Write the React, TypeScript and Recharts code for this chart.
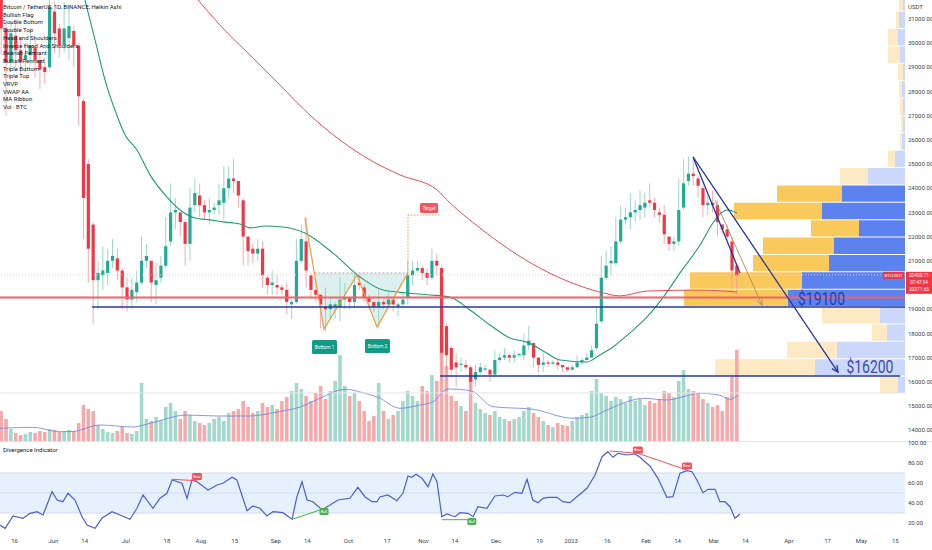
import React from 'react'
import {
  ComposedChart, BarChart, Bar, Line, Area, Cell, XAxis, YAxis,
  ReferenceLine, ReferenceArea, ReferenceDot,
} from 'recharts'

const W = 932
const PRICE_H = 441
const RSI_TOP = 436
const RSI_H = 114
const AXIS_W = 27
const FONT = 'Roboto, "Noto Sans", sans-serif'
const DAY_DOMAIN: [number, number] = [0, 374] // days since 2022-05-10
const PRICE_DOMAIN: [number, number] = [13.554, 31.777] // k USDT
const VOL_DOMAIN: [number, number] = [0, 441]
const PROFILE_DOMAIN: [number, number] = [0, 905]
const RSI_DOMAIN: [number, number] = [7, 102]
const BODY_W = 3.2
const VOL_W = 3.6

const UP = '#22ab94'
const DOWN = '#f23645'
const UP_WICK = '#7fcfbd'
const DOWN_WICK = '#f5949c'
const NAVY = '#2636a0'

// time axis
const timeTicks = [6, 22, 35, 52, 69, 83, 97, 114, 127, 144, 160, 175, 188, 205, 223, 236, 251, 267, 280, 295, 308, 326, 342, 356, 370]
const timeLabels = ['16', 'Jun', '14', 'Jul', '18', 'Aug', '15', 'Sep', '14', 'Oct', '17', 'Nov', '14', 'Dec', '19', '2023', '16', 'Feb', '14', 'Mar', '14', 'Apr', '17', 'May', '15']
const priceTicks = [14, 15, 16, 17, 18, 19, 21, 22, 23, 24, 25, 26, 27, 28, 29, 30, 31]
const rsiTicks = [20, 40, 60, 80, 100]

// Heikin Ashi candles, 2-day buckets from 2022-05-10: [open, high, low, close] in k USDT
const candles: number[][] = [
  [31.8, 32.2, 29.5, 30.6], [30.6, 30.8, 27.0, 29.2], [29.2, 30.9, 28.9, 30.4], [30.3, 31.0, 29.0, 29.7], [29.7, 30.2, 28.7, 29.2],
  [29.3, 30.0, 28.8, 29.5], [29.5, 30.6, 29.1, 29.9], [29.8, 30.2, 28.6, 29.3], [29.3, 29.6, 28.1, 28.9], [29.0, 29.4, 28.3, 28.8],
  [29.0, 31.9, 28.9, 31.5], [31.3, 31.7, 29.6, 30.4], [30.6, 30.8, 29.4, 29.9], [29.9, 31.7, 29.6, 30.6], [30.2, 31.6, 29.3, 30.7],
  [30.5, 30.7, 29.0, 29.9], [29.9, 30.0, 26.6, 27.8], [27.6, 27.7, 21.9, 23.6], [25.0, 25.2, 20.1, 21.5], [22.5, 22.6, 18.4, 20.2],
  [20.2, 21.0, 19.0, 20.5], [20.4, 21.6, 19.8, 20.6], [20.5, 21.5, 20.0, 21.0], [21.0, 21.9, 20.7, 21.2], [21.1, 21.5, 20.2, 20.6],
  [20.6, 20.7, 19.0, 19.9], [19.9, 20.3, 18.9, 19.4], [19.4, 20.3, 19.0, 19.8], [19.7, 20.6, 19.3, 20.1], [20.1, 22.0, 20.0, 21.0],
  [21.0, 21.7, 20.7, 21.2], [21.0, 21.0, 19.3, 20.1], [20.0, 20.9, 19.2, 20.2], [20.3, 21.2, 20.1, 20.8], [20.8, 22.8, 20.7, 21.6],
  [21.8, 24.2, 21.6, 23.0], [23.0, 23.6, 22.3, 23.1], [23.0, 23.0, 22.0, 22.6], [22.6, 22.7, 20.8, 21.7], [21.7, 24.0, 21.0, 23.2],
  [23.3, 24.4, 23.0, 23.8], [23.7, 24.2, 22.8, 23.3], [23.3, 23.5, 22.7, 23.0], [23.0, 23.6, 22.5, 23.1], [23.1, 23.4, 22.9, 23.2],
  [23.3, 24.2, 22.9, 23.5], [23.4, 24.9, 22.7, 24.0], [24.0, 24.9, 23.6, 24.4], [24.4, 25.2, 23.8, 24.3], [24.3, 24.3, 23.2, 23.7],
  [23.5, 23.6, 20.8, 22.0], [22.0, 22.0, 20.8, 21.4], [21.5, 21.7, 20.9, 21.3], [21.3, 21.9, 21.0, 21.5], [21.5, 21.8, 19.9, 20.4],
  [20.3, 20.4, 19.6, 20.0], [20.0, 20.6, 19.6, 20.1], [20.0, 20.4, 19.6, 19.9], [19.9, 20.0, 19.6, 19.8], [19.8, 20.1, 18.8, 19.3],
  [19.2, 19.4, 18.6, 19.3], [19.3, 21.9, 19.2, 21.0], [21.0, 22.5, 20.9, 21.9], [21.8, 22.8, 19.9, 20.6], [20.4, 20.5, 19.5, 19.8],
  [19.8, 20.2, 19.3, 19.6], [19.6, 19.6, 18.2, 19.2], [19.1, 19.9, 18.1, 19.0], [19.0, 19.5, 18.6, 19.2], [19.1, 19.3, 18.6, 19.2],
  [19.1, 20.3, 18.5, 19.4], [19.4, 20.1, 19.0, 19.5], [19.5, 19.5, 19.0, 19.3], [19.3, 20.5, 19.1, 20.0], [20.1, 20.4, 19.8, 20.0],
  [19.9, 20.0, 19.3, 19.5], [19.5, 19.6, 19.0, 19.3], [19.3, 19.3, 18.9, 19.1], [19.1, 19.9, 18.2, 19.3], [19.3, 19.4, 19.0, 19.2],
  [19.2, 19.7, 19.1, 19.4], [19.4, 19.4, 18.9, 19.2], [19.1, 19.3, 18.7, 19.2], [19.2, 19.7, 19.1, 19.4], [19.5, 21.0, 19.2, 20.4],
  [20.4, 21.0, 20.0, 20.6], [20.6, 21.0, 20.5, 20.7], [20.7, 20.8, 20.2, 20.5], [20.5, 20.7, 20.0, 20.3], [20.3, 21.5, 20.2, 21.0],
  [21.0, 21.3, 20.4, 20.8], [20.7, 20.8, 15.9, 17.2], [18.3, 18.4, 16.4, 17.1], [17.4, 17.5, 16.2, 16.5], [16.8, 17.2, 15.8, 16.6],
  [16.7, 17.0, 16.4, 16.75], [16.7, 16.9, 16.5, 16.6], [16.6, 16.7, 15.6, 16.0], [16.1, 16.7, 15.8, 16.4], [16.4, 16.8, 16.3, 16.6],
  [16.5, 16.7, 16.4, 16.55], [16.5, 16.5, 16.0, 16.3], [16.3, 17.3, 16.2, 16.9], [16.9, 17.2, 16.8, 17.0], [17.0, 17.4, 16.9, 17.1],
  [17.1, 17.2, 16.8, 17.0], [17.0, 17.3, 16.8, 17.1], [17.1, 17.2, 17.0, 17.15], [17.1, 18.0, 16.9, 17.5], [17.5, 18.3, 17.3, 17.7],
  [17.6, 17.6, 16.6, 17.0], [17.0, 17.0, 16.4, 16.7], [16.7, 17.2, 16.4, 16.8], [16.8, 16.9, 16.6, 16.75], [16.75, 16.9, 16.7, 16.8],
  [16.8, 16.9, 16.5, 16.7], [16.7, 16.7, 16.4, 16.6], [16.6, 16.6, 16.4, 16.5], [16.5, 16.7, 16.5, 16.6], [16.6, 17.1, 16.6, 16.8],
  [16.8, 17.0, 16.7, 16.9], [16.9, 17.2, 16.9, 17.0], [17.0, 17.5, 17.0, 17.3], [17.4, 19.1, 17.3, 18.4], [18.5, 21.2, 18.4, 20.3],
  [20.3, 21.4, 20.2, 20.8], [20.9, 21.6, 20.4, 21.0], [20.9, 22.8, 20.8, 21.8], [21.8, 23.3, 21.7, 22.7], [22.7, 23.2, 22.5, 22.8],
  [22.8, 23.8, 22.3, 23.0], [23.0, 23.5, 22.6, 23.1], [23.1, 23.9, 22.7, 23.3], [23.2, 23.8, 22.8, 23.4], [23.5, 24.2, 23.2, 23.4],
  [23.4, 23.6, 22.8, 23.1], [23.0, 23.2, 22.6, 22.9], [22.9, 23.3, 21.7, 22.1], [22.0, 22.0, 21.4, 21.7], [21.7, 22.0, 21.4, 21.8],
  [21.8, 24.4, 21.6, 23.1], [23.2, 25.2, 23.1, 24.2], [24.3, 25.3, 24.1, 24.6], [24.6, 25.2, 24.1, 24.5], [24.4, 24.5, 23.6, 24.1],
  [24.0, 24.1, 22.8, 23.3], [23.3, 23.7, 22.9, 23.4], [23.4, 23.9, 23.0, 23.3], [23.3, 23.5, 22.0, 22.6], [22.5, 22.5, 22.1, 22.3],
  [22.3, 22.5, 21.8, 22.0], [21.8, 22.0, 19.7, 20.6], [20.8, 20.9, 19.6, 20.4],
]

// volume per bucket (relative units)
const volumes = [
  30, 22, 12, 8, 6, 7, 9, 8, 10, 9, 12, 11, 9, 10, 11, 10, 18, 36, 32, 30,
  16, 12, 9, 8, 10, 14, 8, 7, 10, 58, 22, 20, 24, 21, 34, 38, 30, 22, 30, 26,
  20, 18, 16, 18, 22, 24, 20, 28, 30, 32, 40, 34, 28, 30, 38, 34, 36, 32, 40, 44,
  50, 58, 52, 45, 40, 48, 55, 42, 50, 60, 86, 55, 45, 48, 40, 30, 20, 25, 58, 30,
  22, 26, 30, 40, 50, 45, 40, 55, 50, 66, 60, 105, 75, 45, 40, 35, 30, 68, 38, 32,
  28, 26, 30, 24, 22, 20, 22, 24, 30, 34, 28, 24, 20, 16, 14, 18, 16, 15, 20, 24,
  26, 28, 50, 62, 48, 45, 40, 44, 42, 38, 45, 40, 42, 36, 40, 38, 42, 50, 48, 44,
  60, 71, 52, 50, 48, 42, 38, 34, 36, 30, 44, 64, 91,
]

// [day, value]
const volumeMa = [
  [0, 12.7], [13.6, 13.7], [24.8, 9.3], [30, 9.5], [41.3, 16], [55, 14], [62, 17.7], [77.3, 26], [89.7, 25], [103.3, 25],
  [114.5, 29], [124, 34], [132.2, 42.7], [142.6, 51.7], [150, 48.3], [156.2, 43.7], [165.3, 32.7], [173.6, 36], [179, 39.3],
  [185, 52], [192.6, 51], [195.5, 49.3], [203.7, 34.3], [220.2, 31.7], [236.8, 22.7], [243.8, 23.7], [250.8, 31], [261.6, 41],
  [265.7, 42.7], [275.6, 41], [289.3, 47.7], [297.5, 45.7], [301.7, 41.7], [305, 46],
]

const maFast = [
  [35.1, 31.78], [39.3, 30.12], [43.4, 28.47], [47.5, 27.23], [51.7, 26.2], [56.6, 25.58], [62, 24.55], [68.2, 23.72],
  [74.4, 23.1], [80.6, 22.77], [86.8, 22.69], [93, 22.6], [99.2, 22.52], [103.3, 22.36], [109.5, 22.44], [116.9, 22.4],
  [126, 22.15], [137.6, 21.32], [148.8, 20.33], [158.3, 19.79], [168.2, 19.67], [177.7, 19.59], [186, 19.5], [194.2, 18.97],
  [202.5, 18.35], [210.7, 17.81], [217.8, 17.64], [225.2, 17.23], [231.4, 16.9], [242.6, 16.82], [247.9, 17.11], [253.3, 17.44],
  [260.3, 18.02], [267.4, 18.68], [274.8, 19.59], [281, 20.5], [289.3, 21.65], [294.6, 22.56], [297.5, 22.93], [300.8, 23.1], [304.5, 22.98],
]

const maSlow = [
  [81.8, 31.78], [90.9, 30.74], [103.3, 29.5], [115.7, 28.26], [128.1, 27.02], [140.5, 25.99], [152.9, 25.17], [165.3, 24.55],
  [180.6, 23.93], [186, 23.39], [198.3, 22.36], [210.7, 21.45], [223.1, 20.7], [235.5, 20.12], [247.9, 19.71], [256.2, 19.55],
  [267.4, 19.75], [289.3, 19.79], [304.5, 19.71],
]

// double bottom: W outline and fill under the neckline
const doubleBottom = [[126, 22.77], [133.9, 18.18], [147.5, 20.41], [155.8, 18.26], [168.6, 20.5]]
const neckline = 20.5
const neckStart = 130
const targetPrice = 22.89
const targetEnd = 181.8

// visible range volume profile (rows of 718 USDT from 15500)
const profileBase = 15.5
const profileStep = 0.718
const profileUp = [18, 100, 50, 15, 58, 104, 112, 76, 71, 48, 88, 65, 28, 7, 2, 2, 3, 3, 5, 12, 10, 3, 4]
const profileDown = [7, 90, 68, 18, 25, 117, 103, 76, 71, 46, 83, 63, 37, 10, 3, 2, 2, 3, 2, 5, 7, 6, 2]
const valueAreaRows = [5, 6, 7, 8, 9, 10, 11]

// RSI divergence indicator, [day, value]
const rsiPoints = [
  [0, 18], [2.1, 14.7], [5.4, 27], [9.5, 24.7], [12.4, 29.7], [15.3, 31.3], [17.8, 28], [21.5, 51.3], [23.6, 43], [26, 41.3],
  [28.1, 49.7], [31, 43], [33.9, 26.3], [36, 18], [39.3, 14.7], [42.1, 24.7], [46.3, 31.3], [49.6, 28], [53.7, 23.7], [56.6, 34.7],
  [59.1, 48], [63.2, 34.7], [66.1, 44.7], [69, 49.7], [71.1, 63], [75.2, 59.7], [77.3, 44.7], [79.3, 63], [81.4, 61.3], [86, 53],
  [89.7, 58], [92.1, 59.7], [95.9, 65.7], [97.9, 63], [102.1, 32.3], [104.5, 37], [107.4, 34.7], [110.3, 27], [112.8, 31.3],
  [116.9, 30.3], [120.7, 23.7], [122.7, 46.3], [124.8, 61.3], [126.9, 43], [129.3, 41.3], [133.1, 33.3], [136.4, 38], [139.7, 43],
  [144.6, 44.7], [147.9, 55.7], [150.8, 46.3], [153.7, 41.3], [155.8, 41.3], [157, 46], [160.3, 48], [164, 42.3], [166.5, 49.7],
  [168.6, 67], [170.2, 65.7], [171.9, 68.7], [174.4, 64.7], [176.9, 56.3], [178.9, 69], [180.6, 61.3], [182.6, 26.3], [184.7, 29],
  [188, 26.3], [190.1, 30.3], [193.4, 29.7], [195.5, 26.3], [197.5, 36.3], [201.2, 34.7], [204.5, 47], [207.9, 48], [209.9, 46.3],
  [212.8, 50.7], [215.7, 49.7], [217.8, 63.7], [220.2, 43], [222.3, 40.3], [224.4, 44.7], [226.4, 45.7], [230.2, 45.7], [232.6, 41.3],
  [235.5, 40.3], [238.4, 46.3], [242.6, 54.7], [245.9, 68], [248.8, 86.3], [251.2, 91.3], [253.3, 85.7], [255.4, 89.7], [259.1, 88],
  [262.4, 89], [264.5, 85.7], [266.5, 81.3], [268.6, 77], [271.9, 64.7], [275.6, 45.7], [278.1, 46.3], [281, 69.7], [283.9, 72.3],
  [286, 71.3], [288, 63], [290.5, 50.3], [292.6, 53.7], [295.5, 53.7], [297.5, 41.3], [299.6, 41.3], [301.7, 36.3], [303.7, 24.7], [305.8, 29],
]
const bearLines = [[[71.1, 63.7], [81.4, 62.3]], [[252.1, 92], [263.6, 89.7]], [[263.6, 89.7], [283.9, 73]]]
const bullLines = [[[120.7, 23.7], [134.3, 34.7]], [[182.6, 23.3], [195, 23.3]]]
const bearTags = [[81.4, 66.5], [263.6, 93], [283.9, 77]]
const bullTags = [[133.9, 31.5], [195, 21.5]]

const legendLines = [
  'Bitcoin / TetherUS, 1D, BINANCE, Heikin Ashi', 'Bullish Flag', 'Double Bottom', 'Double Top', 'Head and Shoulders',
  'Inverse Head And Shoulders', 'Bearish Pennant', 'Bullish Pennant', 'Triple Bottom', 'Triple Top', 'VRVP', 'VWAP AA',
  'MA Ribbon', 'Vol · BTC',
]

const priceData = candles.map(([open, high, low, close], i) => ({
  day: 2 * i + 0.5, open, high, low, close, range: [low, high], vol: volumes[i],
}))
const toXY = (arr: number[][]) => arr.map(([day, v]) => ({ day, v }))
const profileData = profileUp.map((up, k) => ({
  mid: profileBase + profileStep * (k + 0.5), up, down: profileDown[k], va: valueAreaRows.includes(k),
}))
const wFill = doubleBottom
  .filter(([d]) => d >= neckStart)
  .map(([day, v]) => ({ day, band: [v, neckline] }))
wFill.unshift({ day: neckStart, band: [neckline, neckline] })

const Candle = (props: any) => {
  const { x, y, width, height, payload } = props
  if (!payload) return null
  const { open, close, high, low } = payload
  const top = Math.min(y, y + height)
  const h = Math.abs(height)
  const k = h / (high - low || 1)
  const up = close >= open
  const bodyTop = top + (high - Math.max(open, close)) * k
  const bodyH = Math.max(Math.abs(close - open) * k, 0.8)
  const cx = x + width / 2
  return (
    <g>
      <line x1={cx} x2={cx} y1={top} y2={top + h} stroke={up ? UP_WICK : DOWN_WICK} strokeWidth={0.8} />
      <rect x={cx - BODY_W / 2} y={bodyTop} width={BODY_W} height={bodyH} fill={up ? UP : DOWN} />
    </g>
  )
}

const VolBar = (props: any) => {
  const { x, y, width, height, payload } = props
  if (!payload) return null
  const cx = x + width / 2
  const top = Math.min(y, y + height)
  return <rect x={cx - VOL_W / 2} y={top} width={VOL_W} height={Math.abs(height)}
    fill={payload.close >= payload.open ? '#a3d9cc' : '#f6a9aa'} />
}

const arrowLine = (color: string, w: number, head: boolean, dash?: string) => (p: any) => {
  const { x1, y1, x2, y2 } = p
  const a = Math.atan2(y2 - y1, x2 - x1)
  const L = 7
  const pt = (s: number) => `${x2 - L * Math.cos(a + s)},${y2 - L * Math.sin(a + s)}`
  return (
    <g>
      <line x1={x1} y1={y1} x2={x2} y2={y2} stroke={color} strokeWidth={w} strokeDasharray={dash} />
      {head && <polyline points={`${pt(-0.45)} ${x2},${y2} ${pt(0.45)}`} fill="none" stroke={color} strokeWidth={w} />}
    </g>
  )
}

const tag = (text: string, fill: string, w: number, h: number, fs: number) => (p: any) => (
  <g>
    <rect x={p.cx - w / 2} y={p.cy - h / 2} width={w} height={h} rx={1.5} fill={fill} />
    <text x={p.cx} y={p.cy} dy="0.36em" textAnchor="middle" fontSize={fs} fill="#fff" fontFamily={FONT}>{text}</text>
  </g>
)

const bigText = (text: string) => (p: any) => (
  <text x={p.cx} y={p.cy} dy="0.36em" textAnchor="middle" fontSize={18} fill={NAVY} fillOpacity={0.9}
    fontFamily={FONT} textLength={47} lengthAdjust="spacingAndGlyphs">{text}</text>
)

const lastPriceTag = (p: any) => (
  <g fontFamily={FONT}>
    <rect x={p.cx - 22} y={p.cy - 3} width={21} height={7} fill={DOWN} />
    <text x={p.cx - 11.5} y={p.cy + 0.5} dy="0.35em" textAnchor="middle" fontSize={4.2} fill="#fff">BTCUSDT</text>
    <rect x={p.cx + 1} y={p.cy - 3} width={26} height={22} fill={DOWN} />
    <text x={p.cx + 14} y={p.cy + 0.5} dy="0.35em" textAnchor="middle" fontSize={4.8} fill="#fff">20400.11</text>
    <text x={p.cx + 14} y={p.cy + 7.5} dy="0.35em" textAnchor="middle" fontSize={4.5} fill="#fff">07:47:34</text>
    <text x={p.cx + 14} y={p.cy + 14.5} dy="0.35em" textAnchor="middle" fontSize={4.8} fill="#fff">20371.65</text>
  </g>
)

const axisTick = { fontSize: 6, fill: '#3a3f4b', fontFamily: FONT }
const noDot = { dot: false, activeDot: false, isAnimationActive: false } as const

export default function App() {
  return (
    <div style={{ position: 'fixed', left: 0, top: 0, width: W, height: 550, background: '#fff', overflow: 'hidden' }}>
      {/* volume profile */}
      <div style={{ position: 'absolute', left: 0, top: 0 }}>
        <BarChart width={W} height={PRICE_H} data={profileData} layout="vertical"
          margin={{ top: 0, right: AXIS_W, left: 0, bottom: 0 }} barCategoryGap={0}>
          <XAxis type="number" domain={PROFILE_DOMAIN} reversed hide allowDataOverflow />
          <YAxis type="number" dataKey="mid" domain={PRICE_DOMAIN} reversed hide allowDataOverflow />
          <Bar dataKey="down" stackId="p" barSize={16.4} isAnimationActive={false}>
            {profileData.map((r, i) => <Cell key={i} fill={r.va ? '#5b82ef' : '#cbd7fb'} />)}
          </Bar>
          <Bar dataKey="up" stackId="p" barSize={16.4} isAnimationActive={false}>
            {profileData.map((r, i) => <Cell key={i} fill={r.va ? '#f9c95c' : '#fde9c3'} />)}
          </Bar>
        </BarChart>
      </div>

      {/* volume */}
      <div style={{ position: 'absolute', left: 0, top: 0 }}>
        <ComposedChart width={W} height={PRICE_H} data={priceData} margin={{ top: 0, right: AXIS_W, left: 0, bottom: 0 }}>
          <XAxis type="number" dataKey="day" domain={DAY_DOMAIN} hide allowDataOverflow />
          <YAxis domain={VOL_DOMAIN} hide allowDataOverflow />
          <Bar dataKey="vol" shape={VolBar} isAnimationActive={false} />
          <Line data={toXY(volumeMa)} dataKey="v" type="monotone" stroke="#6a7fe0" strokeWidth={0.8} {...noDot} />
        </ComposedChart>
      </div>

      {/* price */}
      <div style={{ position: 'absolute', left: 0, top: 0 }}>
        <ComposedChart width={W} height={PRICE_H} data={priceData} margin={{ top: 0, right: 0, left: 0, bottom: 0 }}>
          <XAxis type="number" dataKey="day" domain={DAY_DOMAIN} hide allowDataOverflow />
          <YAxis orientation="right" width={AXIS_W} domain={PRICE_DOMAIN} ticks={priceTicks} allowDataOverflow
            tickFormatter={(v: number) => (v * 1000).toFixed(2)} axisLine={false} tickLine={false} tickSize={0}
            tickMargin={3} tick={{ ...axisTick, textAnchor: 'start' }} interval={0} />
          <ReferenceLine y={20.42} stroke="#ecc3c6" strokeDasharray="1 2" />
          <ReferenceLine y={15.54} stroke="#e3e5ea" />
          <Area data={wFill} dataKey="band" type="linear" stroke="none" fill="#26a69a" fillOpacity={0.16} {...noDot} />
          <Bar dataKey="range" shape={Candle} isAnimationActive={false} />
          <Line data={toXY(maFast)} dataKey="v" type="monotone" stroke="#1f9c74" strokeWidth={1.1} {...noDot} />
          <Line data={toXY(maSlow)} dataKey="v" type="monotone" stroke="#ef4b55" strokeWidth={1} {...noDot} />
          <Line data={toXY(doubleBottom)} dataKey="v" type="linear" stroke="#f59a3b" strokeWidth={1.2} {...noDot} />
          <ReferenceLine segment={[{ x: neckStart, y: neckline }, { x: 168.6, y: neckline }]} stroke="#9aa0a6" strokeDasharray="2 2" strokeWidth={0.8} />
          <ReferenceLine segment={[{ x: 168.6, y: neckline }, { x: 168.6, y: targetPrice }]} stroke="#f59a3b" strokeDasharray="1.5 1.5" />
          <ReferenceLine segment={[{ x: 168.6, y: targetPrice }, { x: targetEnd, y: targetPrice }]} stroke="#f59a3b" strokeDasharray="1.5 1.5" />
          <ReferenceLine y={19.48} stroke="#f0636a" strokeWidth={2} />
          <ReferenceLine segment={[{ x: 38, y: 19.09 }, { x: 374, y: 19.09 }]} stroke={NAVY} strokeWidth={1.5} />
          <ReferenceLine segment={[{ x: 181.8, y: 16.24 }, { x: 372, y: 16.24 }]} stroke={NAVY} strokeWidth={1.5} />
          <ReferenceLine segment={[{ x: 286.4, y: 25.29 }, { x: 346.3, y: 16.4 }]} shape={arrowLine(NAVY, 1.3, true)} />
          <ReferenceLine segment={[{ x: 286.4, y: 25.29 }, { x: 305.8, y: 20.5 }]} shape={arrowLine(NAVY, 1.3, false)} />
          <ReferenceLine segment={[{ x: 295.5, y: 23.51 }, { x: 314.9, y: 19.17 }]} shape={arrowLine('#a08f5e', 0.9, true)} />
          <ReferenceDot x={177.3} y={23.18} shape={tag('Target', '#f4545e', 18, 10, 4.5)} />
          <ReferenceDot x={134.1} y={17.44} shape={tag('Bottom 1', '#149b84', 25, 14, 4.8)} />
          <ReferenceDot x={156} y={17.48} shape={tag('Bottom 2', '#149b84', 25, 14, 4.8)} />
          <ReferenceDot x={339.5} y={19.46} shape={bigText('$19100')} />
          <ReferenceDot x={359.5} y={16.65} shape={bigText('$16200')} />
          <ReferenceDot x={374} y={20.42} shape={lastPriceTag} />
        </ComposedChart>
      </div>

      {/* legend */}
      <div style={{ position: 'absolute', left: 3, top: 3, fontFamily: FONT, fontSize: 6, lineHeight: '7.7px', color: '#131722' }}>
        {legendLines.map((t) => <div key={t}>{t}</div>)}
      </div>
      <div style={{ position: 'absolute', left: 908, top: 3, fontFamily: FONT, fontSize: 6, color: '#3a3f4b' }}>USDT</div>

      {/* RSI pane */}
      <div style={{ position: 'absolute', left: 0, top: PRICE_H, width: W, height: 0, borderTop: '1px solid #e0e3eb' }} />
      <div style={{ position: 'absolute', left: 0, top: RSI_TOP }}>
        <ComposedChart width={W} height={RSI_H} data={toXY(rsiPoints)} margin={{ top: 5, right: 0, left: 0, bottom: 0 }}>
          <XAxis type="number" dataKey="day" domain={DAY_DOMAIN} ticks={timeTicks} allowDataOverflow interval={0}
            tickFormatter={(v: number) => timeLabels[timeTicks.indexOf(v)]} axisLine={false} tickLine={false}
            tickSize={0} tickMargin={3} height={14} tick={axisTick} />
          <YAxis orientation="right" width={AXIS_W} domain={RSI_DOMAIN} ticks={rsiTicks} allowDataOverflow interval={0}
            tickFormatter={(v: number) => v.toFixed(2)} axisLine={false} tickLine={false} tickSize={0}
            tickMargin={3} tick={{ ...axisTick, textAnchor: 'start' }} />
          <ReferenceArea y1={30} y2={70} fill="#e6f1fd" fillOpacity={1} stroke="none" />
          <ReferenceLine y={70} stroke="#d2dbea" />
          <ReferenceLine y={50} stroke="#d2dbea" />
          <ReferenceLine y={30} stroke="#d2dbea" />
          <Line dataKey="v" type="linear" stroke="#4a5fd6" strokeWidth={1.2} {...noDot} />
          {bearLines.map(([a, b], i) => (
            <ReferenceLine key={`br${i}`} segment={[{ x: a[0], y: a[1] }, { x: b[0], y: b[1] }]} stroke="#f0525c" strokeWidth={1} />
          ))}
          {bullLines.map(([a, b], i) => (
            <ReferenceLine key={`bl${i}`} segment={[{ x: a[0], y: a[1] }, { x: b[0], y: b[1] }]} stroke="#4caf50" strokeWidth={1} />
          ))}
          {bearTags.map(([d, v], i) => <ReferenceDot key={`bt${i}`} x={d} y={v} shape={tag('Bear', '#f0525c', 10, 7, 3.8)} />)}
          {bullTags.map(([d, v], i) => <ReferenceDot key={`bu${i}`} x={d} y={v} shape={tag('Bull', '#4caf50', 9, 7, 3.8)} />)}
        </ComposedChart>
        <div style={{ position: 'absolute', left: 3, top: 10, fontFamily: FONT, fontSize: 6, color: '#131722' }}>Divergence Indicator</div>
      </div>
    </div>
  )
}
